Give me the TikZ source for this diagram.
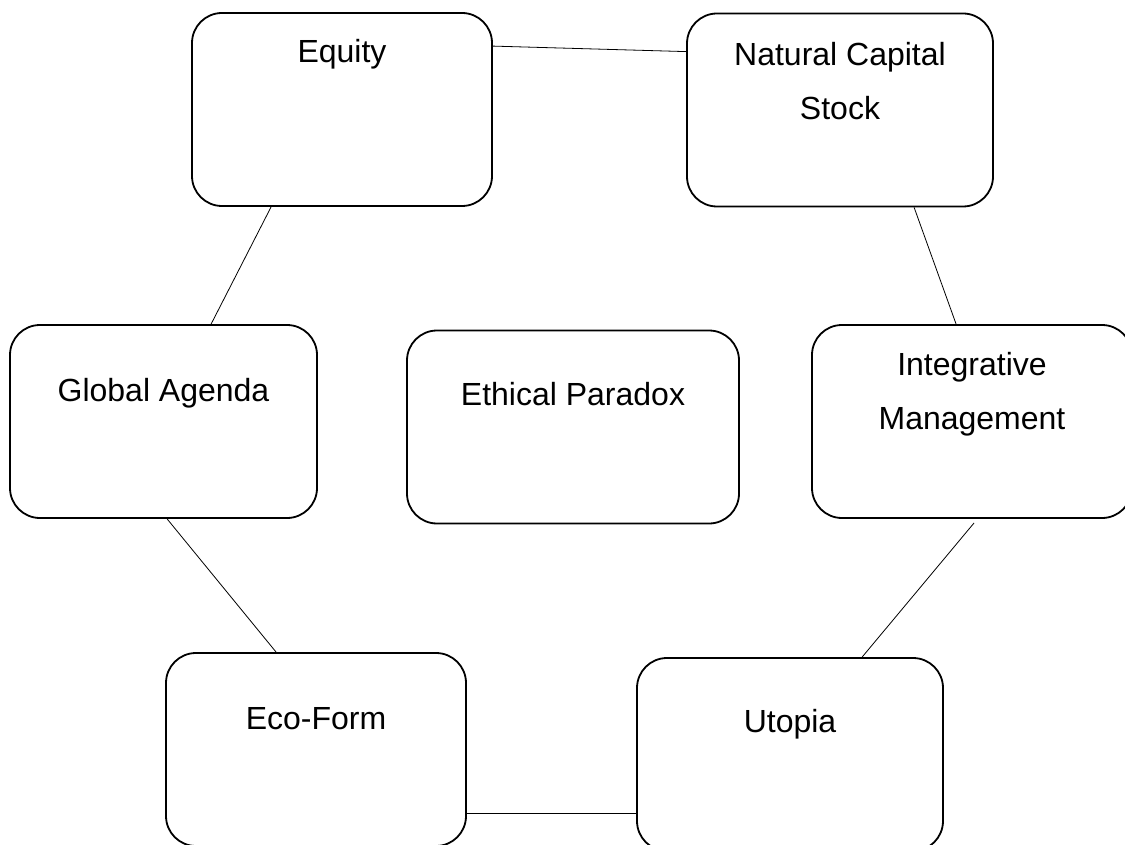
\documentclass[tikz,border=0pt]{standalone}
\usepackage{fontspec}
\setmainfont{Liberation Sans}
\usepackage{tikz}

\tikzset{
    box/.style={draw, line width=1.8pt, rounded corners=30pt, minimum height=193pt, inner sep=0pt},
    boxtext/.style={anchor=base, inner sep=0pt, align=center, font=\fontsize{32}{54}\selectfont},
    link/.style={line width=0.8pt}
}

\begin{document}
\begin{tikzpicture}[x=1pt, y=-1pt]
    \useasboundingbox (0,0) rectangle (1125,845);

    % Draw the boxes
    \node[box, minimum width=300pt] (equity) at (342,109.5) {};
    \node[box, minimum width=306pt] (capital) at (840,110) {};
    \node[box, minimum width=307pt] (agenda) at (163.5,421.5) {};
    \node[box, minimum width=332pt] (paradox) at (573,427) {};
    \node[box, minimum width=320pt] (integ) at (972,421.5) {};
    \node[box, minimum width=300pt] (ecoform) at (316,749.5) {};
    \node[box, minimum width=306pt] (utopia) at (790,754.5) {};

    % Box texts, set from the top edge (base = last line)
    \node[boxtext] (equitytext) at ([yshift=-50pt]equity.north) {Equity};
    \node[boxtext] (capitaltext) at ([yshift=-107pt]capital.north) {Natural Capital\\Stock};
    \node[boxtext] (agendatext) at ([yshift=-77pt]agenda.north) {Global Agenda};
    \node[boxtext] (paradoxtext) at ([yshift=-76pt]paradox.north) {Ethical Paradox};
    \node[boxtext] (integtext) at ([yshift=-105pt]integ.north) {Integrative\\Management};
    \node[boxtext] (ecoformtext) at ([yshift=-77pt]ecoform.north) {Eco-Form};
    \node[boxtext] (utopiatext) at ([yshift=-75pt]utopia.north) {Utopia};

    % Connect the ring
    \draw[link] ([yshift=-34pt]equity.north east) -- ([yshift=-39pt]capital.north west);
    \draw[link] ([xshift=80pt]equity.south west) -- ([xshift=202pt]agenda.north west);
    \draw[link] ([xshift=228pt]capital.south west) -- ([xshift=145pt]integ.north west);
    \draw[link] ([xshift=158pt]agenda.south west) -- ([xshift=111pt]ecoform.north west);
    \draw[link] ([xshift=163pt, yshift=-4pt]integ.south west) -- ([xshift=226pt]utopia.north west); % starts a little below the box
    \draw[link] ([yshift=-161pt]ecoform.north east) -- ([yshift=-156pt]utopia.north west);
\end{tikzpicture}
\end{document}
